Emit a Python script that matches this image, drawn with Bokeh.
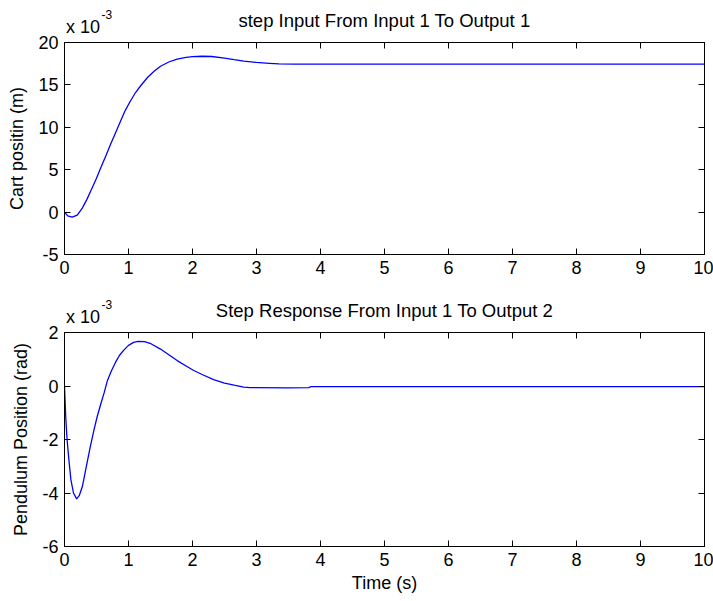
from bokeh.plotting import figure
from bokeh.layouts import column
from bokeh.models import FixedTicker, LinearAxis, Range1d, PrintfTickFormatter
from bokeh.embed import file_html
from bokeh.resources import INLINE

# ---- data (values in units of 1e-3) ----
cart_t = [0, 0.05, 0.12, 0.2, 0.28, 0.35, 0.41, 0.5, 0.56, 0.65, 0.72, 0.8, 0.875,
          0.95, 1.03, 1.11, 1.19, 1.3, 1.4, 1.5, 1.63, 1.76, 1.9, 2.0, 2.15, 2.3,
          2.5, 2.65, 2.8, 3.0, 3.2, 3.35, 3.6, 4.0, 5.0, 6.0, 7.0, 8.0, 9.0, 10.0]
cart_pos = [0, -0.45, -0.6, -0.35, 0.5, 1.5, 2.5, 4.0, 5.1, 6.7, 8.0, 9.4, 10.7,
            12.0, 13.1, 14.1, 14.9, 15.9, 16.6, 17.2, 17.7, 18.05, 18.25, 18.33, 18.38, 18.35,
            18.15, 17.97, 17.8, 17.65, 17.55, 17.48, 17.45, 17.45, 17.45, 17.45, 17.45, 17.45, 17.45, 17.45]

pend_t = [0, 0.01, 0.02, 0.04, 0.07, 0.1, 0.14, 0.19, 0.23, 0.28, 0.35, 0.4, 0.46,
          0.51, 0.56, 0.62, 0.67, 0.73, 0.8, 0.86, 0.93, 1.0, 1.08, 1.15, 1.25, 1.35,
          1.5, 1.63, 1.76, 1.9, 2.02, 2.15, 2.33, 2.5, 2.65, 2.8, 2.9, 3.5, 3.82, 3.85,
          4.0, 6.0, 8.0, 10.0]
pend_pos = [0, -0.6, -1.2, -2.0, -2.8, -3.5, -4.0, -4.22, -4.1, -3.75, -2.9, -2.3, -1.65,
            -1.15, -0.73, -0.25, 0.2, 0.55, 0.9, 1.15, 1.35, 1.52, 1.63, 1.67, 1.66, 1.58,
            1.38, 1.17, 0.95, 0.75, 0.58, 0.43, 0.24, 0.11, 0.03, -0.04, -0.06, -0.07, -0.06, -0.02,
            -0.02, -0.02, -0.02, -0.02]

x_ticks = [0, 1, 2, 3, 4, 5, 6, 7, 8, 9, 10]
top_yticks = [-5, 0, 5, 10, 15, 20]
bot_yticks = [-6, -4, -2, 0, 2]
exp_base = "x 10"
exp_power = "-3"

FONT = "Liberation Sans"
FRAME_W = 640
TICK_PX = 6
EXP_BASE_POS = 0.29   # centre of "x 10" (x-axis units)
EXP_POWER_POS = 0.66  # centre of the superscript "-3"


def style_axis(ax, ticks):
    ax.ticker = FixedTicker(ticks=ticks)
    ax.formatter = PrintfTickFormatter(format="%d")
    ax.major_tick_in = TICK_PX
    ax.major_tick_out = 0
    ax.minor_tick_in = 0
    ax.minor_tick_out = 0
    ax.axis_line_color = "black"
    ax.major_tick_line_color = "black"
    ax.major_label_text_font = FONT
    ax.major_label_text_color = "black"
    ax.major_label_text_font_size = "18px"
    ax.major_label_standoff = 6
    ax.axis_label_text_font = FONT
    ax.axis_label_text_font_style = "normal"
    ax.axis_label_text_color = "black"
    ax.axis_label_text_font_size = "18px"


def text_axis(ticks, labels, size, standoff, minor=None):
    ax = LinearAxis(ticker=FixedTicker(ticks=ticks, minor_ticks=minor or []))
    ax.major_label_overrides = dict(zip(ticks, labels))
    ax.axis_line_color = "black" if minor else None
    ax.major_tick_in = 0
    ax.major_tick_out = 0
    ax.minor_tick_in = TICK_PX if minor else 0
    ax.minor_tick_out = 0
    ax.minor_tick_line_color = "black"
    ax.major_label_text_font = FONT
    ax.major_label_text_color = "black"
    ax.major_label_text_font_size = size
    ax.major_label_standoff = standoff
    return ax


def make_fig(frame_h, top, bottom, yr, yticks, title, ylabel, xs, ys, xlabel=None):
    p = figure(frame_width=FRAME_W, frame_height=frame_h,
               min_border_left=64, min_border_right=9,
               min_border_top=top, min_border_bottom=bottom,
               x_range=Range1d(0, 10), y_range=Range1d(*yr),
               output_backend="svg", toolbar_location=None)
    p.grid.visible = False
    p.outline_line_color = "black"
    p.outline_line_alpha = 1.0
    p.background_fill_color = "white"
    p.border_fill_color = "white"

    style_axis(p.xaxis[0], x_ticks)
    style_axis(p.yaxis[0], yticks)
    p.yaxis[0].axis_label = ylabel
    p.yaxis[0].axis_label_standoff = 8
    if xlabel:
        p.xaxis[0].axis_label = xlabel
        p.xaxis[0].axis_label_standoff = 4

    # top edge: inward ticks (as minor ticks) + the "x 10" exponent text
    p.add_layout(text_axis([EXP_BASE_POS], [exp_base], "18px", 6, minor=x_ticks), "above")
    # superscript of the exponent
    p.add_layout(text_axis([EXP_POWER_POS], [exp_power], "12px", -5), "above")
    # right edge: inward ticks only
    right_ax = LinearAxis(ticker=FixedTicker(ticks=[], minor_ticks=yticks))
    right_ax.axis_line_color = "black"
    right_ax.major_tick_in = 0
    right_ax.major_tick_out = 0
    right_ax.minor_tick_in = TICK_PX
    right_ax.minor_tick_out = 0
    right_ax.minor_tick_line_color = "black"
    right_ax.major_label_standoff = 0
    p.add_layout(right_ax, "right")

    p.title.text = title
    p.title.align = "center"
    p.title.text_font = FONT
    p.title.text_font_size = "18.5px"
    p.title.text_font_style = "normal"
    p.title.text_color = "black"
    p.title.standoff = -48

    p.line(xs, ys, line_color="#0000ff", line_width=1.3)
    return p


p1 = make_fig(212, 42, 36, (-5, 20), top_yticks, "step Input From Input 1 To Output 1",
              "Cart positin (m)", cart_t, cart_pos)
p2 = make_fig(214, 42, 55, (-6, 2), bot_yticks, "Step Response From Input 1 To Output 2",
              "Pendulum Position (rad)", pend_t, pend_pos, xlabel="Time (s)")

layout = column(p1, p2, spacing=0)
open("out.html", "w").write(file_html(layout, INLINE))
